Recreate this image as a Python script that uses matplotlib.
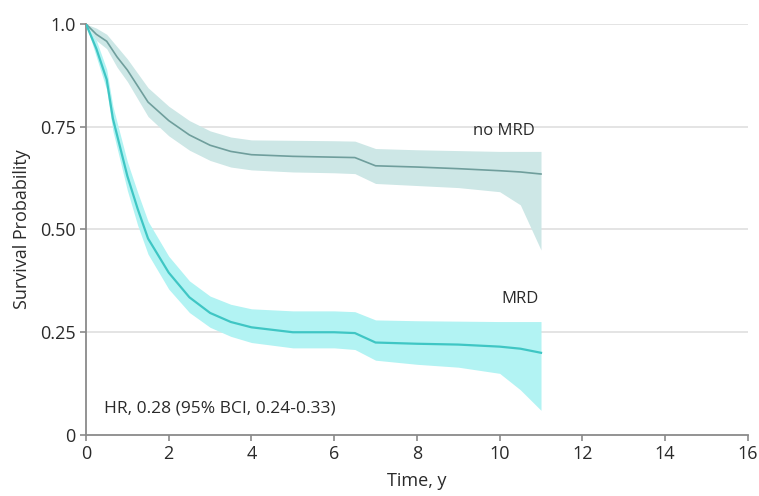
import matplotlib
matplotlib.use("Agg")
import matplotlib.pyplot as plt

plt.rcParams['font.family'] = ['Open Sans', 'DejaVu Sans']

# no MRD group
t_nomrd = [0, 0.25, 0.5, 0.75, 1.0, 1.5, 2.0, 2.5, 3.0, 3.5, 4.0, 5.0, 6.0, 6.5, 7.0, 8.0, 9.0, 10.0, 10.5, 11.0]
s_nomrd = [1.0, 0.975, 0.958, 0.92, 0.888, 0.81, 0.765, 0.73, 0.705, 0.69, 0.682, 0.678, 0.676, 0.675, 0.655, 0.652, 0.648, 0.643, 0.64, 0.635]
up_nomrd = [1.0, 0.99, 0.975, 0.945, 0.915, 0.845, 0.8, 0.765, 0.74, 0.725, 0.718, 0.717, 0.716, 0.715, 0.697, 0.694, 0.692, 0.69, 0.69, 0.69]
lo_nomrd = [1.0, 0.96, 0.94, 0.895, 0.86, 0.775, 0.728, 0.693, 0.668, 0.652, 0.645, 0.64, 0.638, 0.636, 0.612, 0.607, 0.602, 0.592, 0.56, 0.45]

# MRD group
t_mrd = [0, 0.25, 0.5, 0.65, 1.0, 1.25, 1.5, 2.0, 2.5, 3.0, 3.5, 4.0, 5.0, 6.0, 6.5, 7.0, 8.0, 9.0, 10.0, 10.5, 11.0]
s_mrd = [1.0, 0.94, 0.865, 0.77, 0.63, 0.55, 0.478, 0.395, 0.335, 0.297, 0.275, 0.262, 0.25, 0.25, 0.248, 0.225, 0.222, 0.22, 0.215, 0.21, 0.2]
up_mrd = [1.0, 0.96, 0.89, 0.8, 0.665, 0.59, 0.52, 0.435, 0.375, 0.338, 0.318, 0.307, 0.302, 0.302, 0.3, 0.28, 0.278, 0.277, 0.276, 0.276, 0.276]
lo_mrd = [1.0, 0.92, 0.84, 0.74, 0.595, 0.51, 0.44, 0.355, 0.298, 0.262, 0.24, 0.225, 0.212, 0.212, 0.208, 0.182, 0.172, 0.165, 0.15, 0.11, 0.06]

x_ticks = [0, 2, 4, 6, 8, 10, 12, 14, 16]
y_ticks = [0, 0.25, 0.50, 0.75, 1.0]
y_tick_labels = ["0", "0.25", "0.50", "0.75", "1.0"]

fig = plt.figure(figsize=(7.59, 4.96), dpi=100)
ax = fig.add_axes([0.1133, 0.123, 0.872, 0.8286])

grid_c = "#dcdcdc"
for yv in y_ticks[1:]:
    ax.axhline(yv, color=grid_c, lw=1.1, zorder=0)

ax.fill_between(t_nomrd, lo_nomrd, up_nomrd, color="#cde7e6", lw=0, zorder=1)
ax.plot(t_nomrd, s_nomrd, color="#6f9e9c", lw=1.2, zorder=3)

ax.fill_between(t_mrd, lo_mrd, up_mrd, color="#b2f3f3", lw=0, zorder=2)
ax.plot(t_mrd, s_mrd, color="#3fc6c4", lw=1.6, zorder=4)

txt_c = "#2a2a2a"
ax.text(10.1, 0.74, "no MRD", fontsize=12, color=txt_c, ha="center", va="center")
ax.text(10.5, 0.33, "MRD", fontsize=12, color=txt_c, ha="center", va="center")
ax.text(0.43, 0.065, "HR, 0.28 (95% BCI, 0.24-0.33)", fontsize=12.5, color=txt_c, ha="left", va="center")

ax.set_xlim(0, 16)
ax.set_ylim(0, 1.0)
ax.set_xticks(x_ticks)
ax.set_xticklabels([str(v) for v in x_ticks])
ax.set_yticks(y_ticks)
ax.set_yticklabels(y_tick_labels)

for s in ["top", "right"]:
    ax.spines[s].set_visible(False)
for s in ["left", "bottom"]:
    ax.spines[s].set_color("#8a8a8a")
    ax.spines[s].set_linewidth(1.3)
ax.tick_params(axis="both", colors="#8a8a8a", labelcolor=txt_c, labelsize=13, length=4, width=1.2)

ax.set_xlabel("Time, y", fontsize=13, color=txt_c, labelpad=6)
ax.set_ylabel("Survival Probability", fontsize=13, color=txt_c, labelpad=6)

fig.savefig("out.png", dpi=100)
